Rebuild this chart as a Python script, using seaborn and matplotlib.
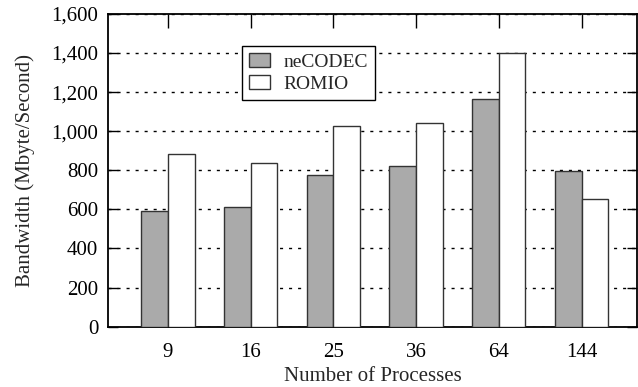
import matplotlib
matplotlib.use("Agg")
import matplotlib.pyplot as plt
import seaborn as sns
import pandas as pd
from matplotlib.ticker import FuncFormatter, MultipleLocator

processes = ["9", "16", "25", "36", "64", "144"]
necodec = [590, 610, 775, 820, 1165, 795]
romio = [885, 835, 1025, 1040, 1400, 655]
series_names = ["neCODEC", "ROMIO"]

df = pd.DataFrame({
    "Processes": processes * 2,
    "Bandwidth": necodec + romio,
    "Series": [series_names[0]] * len(processes) + [series_names[1]] * len(processes),
})

sns.set_style("white")
plt.rcParams["font.family"] = ["Liberation Serif", "DejaVu Serif"]
plt.rcParams["font.size"] = 15

fig = plt.figure(figsize=(6.38, 3.87), dpi=100)
ax = fig.add_axes([0.1693, 0.156, 0.829, 0.808])

sns.barplot(data=df, x="Processes", y="Bandwidth", hue="Series", order=processes,
            hue_order=series_names, palette=["#aaaaaa", "#ffffff"], width=0.645,
            edgecolor="#333333", linewidth=1.0, saturation=1, ax=ax, zorder=3)

ax.set_xlim(-0.726, 5.67)
ax.set_ylim(0, 1600)
ax.yaxis.set_major_locator(MultipleLocator(200))
ax.yaxis.set_major_formatter(FuncFormatter(lambda v, p: f"{int(v):,}"))
ax.grid(axis="y", color="black", linestyle=(0, (2.2, 4.3)), linewidth=1.0, zorder=0)
ax.grid(axis="x", visible=False)
ax.set_axisbelow(True)

for s in ax.spines.values():
    s.set_color("black")
    s.set_linewidth(1.3)
    s.set_visible(True)

ax.tick_params(axis="both", which="both", direction="in", top=True, right=True,
               bottom=True, left=True, length=7, width=1, color="black",
               labelsize=15, labelcolor="black")
ax.tick_params(axis="x", pad=11.5, length=10)
ax.tick_params(axis="y", pad=7)

ax.set_xlabel("Number of Processes", fontsize=15, labelpad=4)
ax.set_ylabel("Bandwidth (Mbyte/Second)", fontsize=15, labelpad=12)

handles, labels = ax.get_legend_handles_labels()
leg = ax.legend(handles, labels, loc="upper left", bbox_to_anchor=(0.253, 0.898),
                borderaxespad=0, frameon=True, fancybox=False, framealpha=1,
                edgecolor="black", handlelength=1.08, handleheight=0.78,
                handletextpad=0.72, borderpad=0.36, labelspacing=0.2, fontsize=14)
leg.get_frame().set_linewidth(1.0)
leg.set_zorder(5)

fig.savefig("out.png", dpi=100)
